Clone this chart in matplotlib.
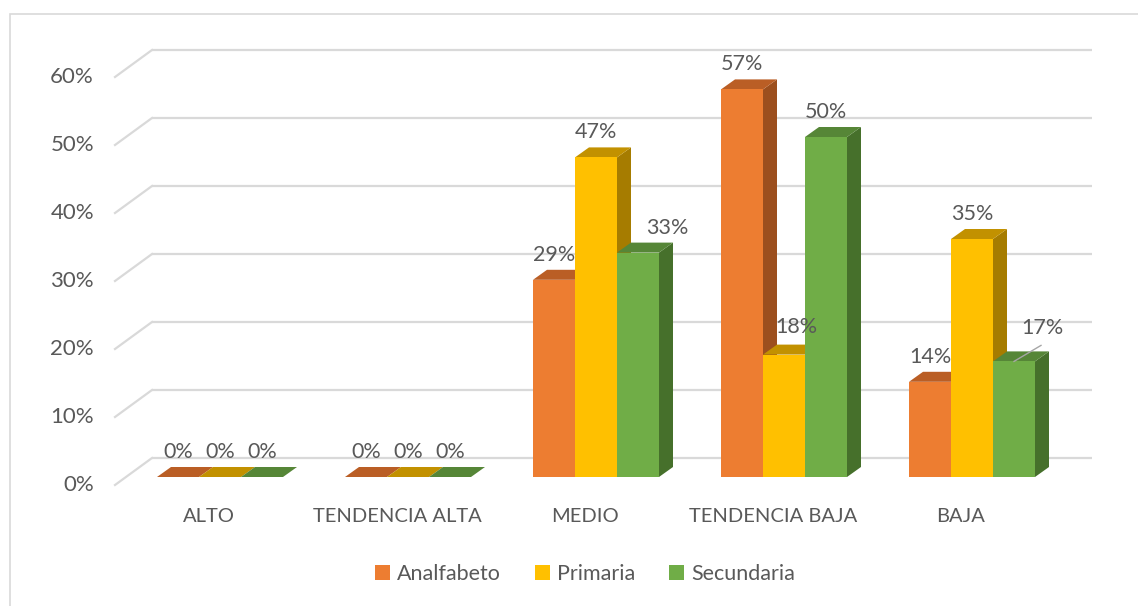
import matplotlib
matplotlib.use('Agg')
import matplotlib.pyplot as plt
from matplotlib.patches import Polygon, Patch, Rectangle

# data
categories = ['ALTO', 'TENDENCIA ALTA', 'MEDIO', 'TENDENCIA BAJA', 'BAJA']
series = ['Analfabeto', 'Primaria', 'Secundaria']
analfabeto = [0, 0, 29, 57, 14]
primaria = [0, 0, 47, 18, 35]
secundaria = [0, 0, 33, 50, 17]
values = [analfabeto, primaria, secundaria]
yticks = [0, 10, 20, 30, 40, 50, 60]

front_col = ['#ED7D31', '#FFC000', '#70AD47']
top_col = ['#BA5E25', '#C29100', '#568637']
side_col = ['#9C4F1E', '#A67C00', '#46702B']
txt = '#595959'
grid = '#D9D9D9'
plt.rcParams['font.family'] = ['Lato', 'DejaVu Sans']

# pixel -> data scale (x: one category slot = 188px, y: 1% = 6.8px)
PX = 1 / 188
PY = 1 / 6.8

fig = plt.figure(figsize=(11.38, 6.06), dpi=100)
ax = fig.add_axes([0, 0, 1, 1])
ax.set_xlim(-152 * PX, (1138 - 152) * PX)
ax.set_ylim((458 - 606) * PY, 458 * PY)
ax.axis('off')

# chart border
fig.add_artist(Rectangle((10 / 1138, -0.1), 1.2, 1 - 14 / 606 + 0.1, transform=fig.transFigure,
                         fill=False, edgecolor=grid, lw=1.2))

# back wall grid + floor diagonals
fdx, fdy = -37 * PX, -27 * PY
for t in yticks:
    ax.plot([0, len(categories)], [t, t], color=grid, lw=1.6, zorder=1, solid_capstyle='butt')
    ax.plot([0, fdx], [t, t + fdy], color=grid, lw=1.6, zorder=1)
    ax.text(fdx - 21 * PX, t + fdy, f'{t}%', ha='right', va='center', fontsize=16, color=txt)

for i, c in enumerate(categories):
    ax.text(i + 0.5 + fdx, -58 * PY, c, ha='center', va='center', fontsize=14.5, color=txt)

# bars
bw = 42 * PX
bdx, bdy = -26 * PX, -19 * PY      # front plane of bars
sdx, sdy = 14 * PX, 10 * PY        # bar depth
label_shift = {(2, 2): (29, 0), (1, 3): (12, 3), (2, 4): (28, 8)}

for i in range(len(categories)):
    for j in range(len(series)):
        v = values[j][i]
        x0 = i + 0.5 + bdx + (j - 1.5) * bw
        x1 = x0 + bw
        y0 = bdy
        y1 = bdy + v
        ax.add_patch(Polygon([(x1, y0), (x1 + sdx, y0 + sdy), (x1 + sdx, y1 + sdy), (x1, y1)],
                             closed=True, facecolor=side_col[j], edgecolor='none', zorder=2))
        ax.add_patch(Polygon([(x0, y1), (x1, y1), (x1 + sdx, y1 + sdy), (x0 + sdx, y1 + sdy)],
                             closed=True, facecolor=top_col[j], edgecolor='none', zorder=2))
        ax.bar(x0, v, width=bw, bottom=y0, align='edge', color=front_col[j], zorder=2)

        ox, oy = label_shift.get((j, i), (0, 0))
        lx = (x0 + x1) / 2 + ox * PX
        ly = y1 + 25 * PY + oy * PY
        ax.text(lx, ly, f'{v}%', ha='center', va='center', fontsize=15.5, color=txt, zorder=5)
        if (j, i) == (2, 4):
            ax.plot([lx - 1 * PX, (x0 + x1) / 2], [ly - 17 * PY, y1], color='#A6A6A6', lw=1, zorder=5)

handles = [Patch(facecolor=front_col[k], label=series[k]) for k in range(3)]
fig.legend(handles=handles, loc='center', bbox_to_anchor=(585 / 1138, 1 - 574 / 606), ncol=3,
           frameon=False, fontsize=15.5, handlelength=0.7, handleheight=0.7, handletextpad=0.3,
           columnspacing=1.6, labelcolor=txt)

plt.savefig('out.png', dpi=100)
plt.close()
